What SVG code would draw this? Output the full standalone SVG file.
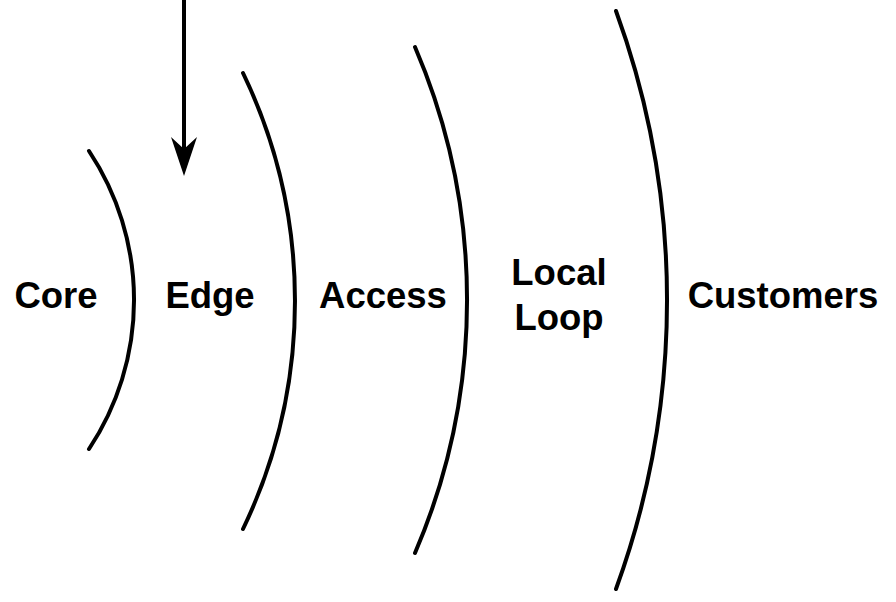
<svg xmlns="http://www.w3.org/2000/svg" width="896" height="602" viewBox="0 0 896 602">
<style>
.arc{fill:none;stroke:#000;stroke-width:4;stroke-linecap:round}
.lbl{font-family:"Liberation Sans",Arial,sans-serif;font-weight:bold;font-size:36.5px;fill:#000;text-anchor:middle}
</style>
<defs>
<marker id="ah" markerUnits="userSpaceOnUse" viewBox="0 0 40 26" markerWidth="40" markerHeight="26" refX="23" refY="13" orient="auto">
<path d="M0,0 L39,13 L0,26 L12,13 Z" fill="#000"/>
</marker>
</defs>
<rect width="896" height="602" fill="#fff"/>
<g id="boundaries">
<path id="arc1" class="arc" d="M89,151 A269,269 0 0 1 89,449"/>
<path id="arc2" class="arc" d="M243,73 A526,526 0 0 1 243,529"/>
<path id="arc3" class="arc" d="M415,47 A641,641 0 0 1 415,553"/>
<path id="arc4" class="arc" d="M616,11 A844,844 0 0 1 616,589"/>
</g>
<g id="connectors">
<line x1="184" y1="0" x2="184" y2="160" stroke="#000" stroke-width="4" marker-end="url(#ah)"/>
</g>
<g id="core"><text class="lbl" x="56" y="308">Core</text></g>
<g id="edge"><text class="lbl" x="210" y="308">Edge</text></g>
<g id="access"><text class="lbl" x="383" y="308">Access</text></g>
<g id="localloop"><text class="lbl" x="559" y="285">Local</text><text class="lbl" x="559" y="330">Loop</text></g>
<g id="customers"><text class="lbl" x="783" y="308">Customers</text></g>
</svg>
